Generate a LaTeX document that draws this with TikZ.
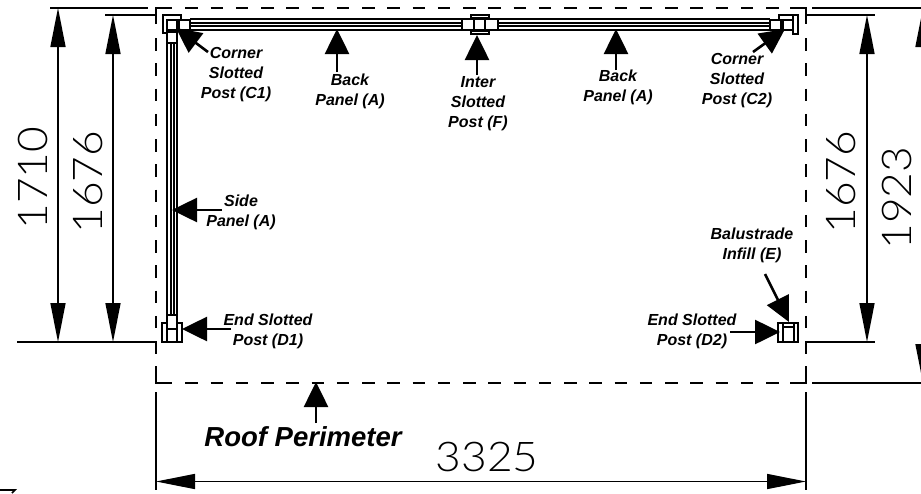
\documentclass[tikz,border=0pt]{standalone}
\usepackage{fontspec}
\setmainfont{Liberation Sans}
\newfontfamily\dimfont{Lato Light}
\usetikzlibrary{arrows.meta}
\tikzset{
  dimline/.style={line width=1.6pt, {Triangle[length=39pt,width=15pt]}-{Triangle[length=39pt,width=15pt]}},
  extline/.style={line width=1.6pt},
  roofline/.style={line width=1.8pt},
  roofdash/.style={roofline, dash pattern=on 12.5pt off 12.75pt},
  panelline/.style={line width=1.5pt},
  postline/.style={line width=1.4pt, fill=white},
  pointer/.style={line width=2.6pt, -{Triangle[length=25pt,width=24pt]}},
  callout/.style={font=\fontsize{16}{20}\selectfont\bfseries\itshape, align=center, inner sep=0pt},
  dimtext/.style={font=\dimfont\fontsize{41}{41}\selectfont, inner sep=0pt, xscale=1.08}
}

\begin{document}
\begin{tikzpicture}[x=1pt,y=-1pt]
\useasboundingbox (0,0) rectangle (921,493);

% roof perimeter
\draw[roofline] (156,24) -- (156,8) -- (172,8);
\draw[roofline] (790,8) -- (806,8) -- (806,24);
\draw[roofline] (156,367) -- (156,383) -- (172,383);
\draw[roofline] (790,383) -- (806,383) -- (806,367);
\draw[roofdash] (185.25,8) -- (790,8);
\draw[roofdash] (185.25,383) -- (790,383);
\draw[roofdash] (156,38) -- (156,367);
\draw[roofdash] (806,38) -- (806,367);

% extension lines
\draw[extline] (50,8) -- (148,8);
\draw[extline] (105,15) -- (156,15);
\draw[extline] (17,342) -- (156,342);
\draw[extline] (812,8) -- (921,8);
\draw[extline] (806,15) -- (875,15);
\draw[extline] (806,342) -- (875,342);
\draw[extline] (812,383) -- (921,383);
\draw[extline] (156,392) -- (156,490);
\draw[extline] (806,392) -- (806,490);
\draw[extline] (0,490) -- (15,490) -- (12,493);

% dimensions
\draw[dimline] (58,8) -- (58,342);
\draw[dimline] (113,15) -- (113,342);
\draw[dimline] (867,15) -- (867,342);
\draw[dimline] (923,8) -- (923,383);
\draw[dimline] (156,481.5) -- (806,481.5);

\node[rotate=90, dimtext] (dimA) at (33,178) {1710};
\node[rotate=90, dimtext] (dimB) at (88,182) {1676};
\node[rotate=90, dimtext] (dimC) at (841,182) {1676};
\node[rotate=90, dimtext] (dimD) at (897,198) {1923};
\node[dimtext] (dimE) at (487,457) {3325};

% back panels
\foreach \y in {19,23,26,30} {
  \draw[panelline] (190,\y) -- (462,\y);
  \draw[panelline] (498,\y) -- (770,\y);
}
% side panel
\foreach \x in {167,171,174,177} {
  \draw[panelline] (\x,43) -- (\x,315);
}

% corner post C1
\draw[postline] (181,19) -- (181,15) -- (163,15) -- (163,33) -- (167,33);
\draw[postline] (167,20) rectangle (177,30);
\draw[postline] (179,20) rectangle (190,30);
\draw[postline] (167,32) rectangle (177,43);

% inter post F
\draw[postline] (471,15) rectangle (489,18);
\draw[postline] (471,31) rectangle (489,34);
\draw[postline] (462,19) rectangle (498,30);
\draw[postline] (474,19) rectangle (485,30);

% corner post C2
\draw[postline] (779,19) -- (779,15) -- (798,15) -- (798,34) -- (793,34);
\draw[postline] (793,15) rectangle (798,34);
\draw[postline] (770,20) rectangle (781,30);
\draw[postline] (783,20) rectangle (793,30);

% end post D1
\draw[postline] (162,323) rectangle (182,342);
\draw[postline] (167,315) rectangle (177,329);
\draw[panelline] (167,329) -- (167,342);
\draw[panelline] (177,329) -- (177,342);

% end post D2
\draw[postline] (778,323) rectangle (798,342);
\draw[panelline] (783,323) -- (783,342);
\draw[panelline] (794,323) -- (794,342);
\draw[panelline] (783,327) -- (794,327);

% callouts
\node[callout] (cornerA) at (236,75) {Corner\\Slotted\\Post (C1)};
\node[callout] (backA) at (350,91) {Back\\Panel (A)};
\node[callout] (inter) at (478,104) {Inter\\Slotted\\Post (F)};
\node[callout] (backB) at (618,87) {Back\\Panel (A)};
\node[callout] (cornerB) at (737,81) {Corner\\Slotted\\Post (C2)};
\node[callout] (side) at (241,212) {Side\\Panel (A)};
\node[callout] (endA) at (268,331) {End Slotted\\Post (D1)};
\node[callout] (balustrade) at (752,245) {Balustrade\\Infill (E)};
\node[callout] (endB) at (692,331) {End Slotted\\Post (D2)};
\node[callout, font=\fontsize{27.5}{28}\selectfont\bfseries\itshape] (roof) at (303,437) {Roof Perimeter};

\draw[pointer] (208,52) -- (176,28);
\draw[pointer] (337,72) -- (337,29);
\draw[pointer] (477,75) -- (477,35);
\draw[pointer] (616,70) -- (616,29);
\draw[pointer] (753,52) -- (785,29);
\draw[pointer] (222,210) -- (172,210);
\draw[pointer] (231,329) -- (182,329);
\draw[pointer] (730,332) -- (780,332);
\draw[pointer] (765,274) -- (789,322);
\draw[pointer] (316,423) -- (316,382);
\end{tikzpicture}
\end{document}
